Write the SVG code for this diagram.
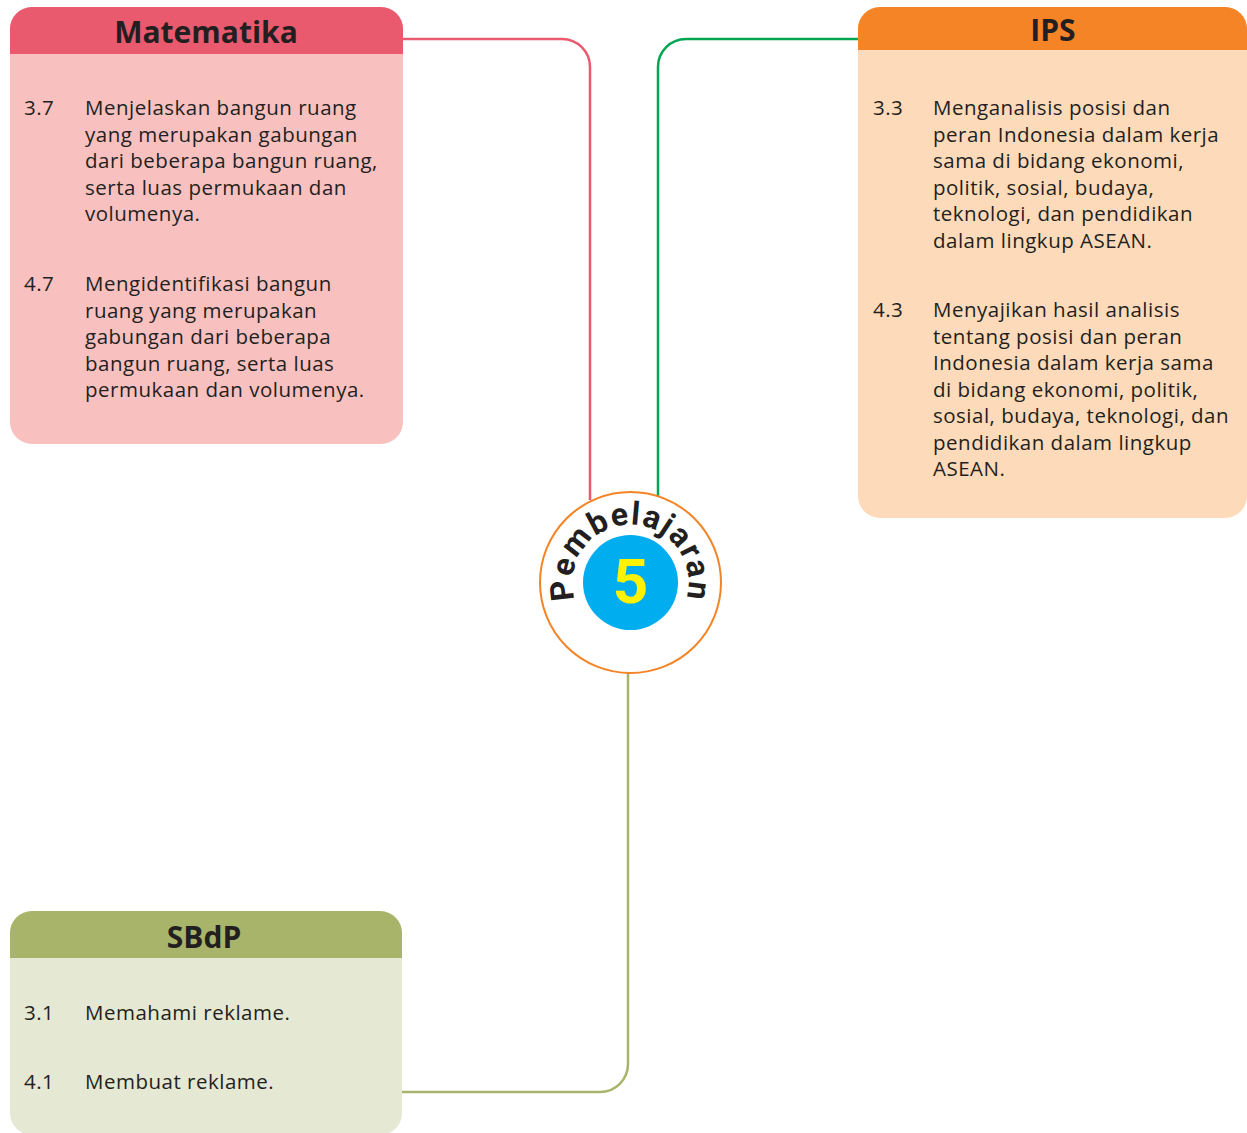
<svg xmlns="http://www.w3.org/2000/svg" width="1247" height="1133" viewBox="0 0 1247 1133">
<defs>
<style>
.body{font-family:"Open Sans","Noto Sans","Liberation Sans",sans-serif;font-size:20.5px;letter-spacing:0.5px;fill:#231f20}
.title{font-family:"Open Sans","Noto Sans","Liberation Sans",sans-serif;font-size:30px;font-weight:700;fill:#231f20;text-anchor:middle}
.conn{fill:none;stroke-width:2.5}
</style>
<path id="arc" d="M 577.9,607 A 58 58 0 1 1 683.1,607"/>
<clipPath id="clipM"><rect x="10" y="7" width="393" height="437" rx="22"/></clipPath>
<clipPath id="clipI"><rect x="858" y="7" width="389" height="511" rx="22"/></clipPath>
<clipPath id="clipS"><rect x="10" y="911" width="392" height="224" rx="22"/></clipPath>
</defs>
<rect width="1247" height="1133" fill="#ffffff"/>
<g id="connectors">
<path class="conn" stroke="#ea5a6f" d="M 403,39 H 562 A 28 28 0 0 1 590,67 V 500"/>
<path class="conn" stroke="#00a651" d="M 858,39 H 686 A 28 28 0 0 0 658,67 V 500"/>
<path class="conn" stroke="#a9b46b" d="M 628,673 V 1064 A 28 28 0 0 1 600,1092 H 402"/>
</g>
<g id="matematika">
<g clip-path="url(#clipM)">
<rect x="10" y="7" width="393" height="437" fill="#f8c1c0"/>
<rect x="10" y="7" width="393" height="47" fill="#ea5a6f"/>
</g>
<text class="title" x="206" y="43">Matematika</text>
<text class="body" x="24" y="115">3.7</text>
<text class="body"><tspan x="85" y="115">Menjelaskan bangun ruang</tspan><tspan x="85" y="142">yang merupakan gabungan</tspan><tspan x="85" y="168">dari beberapa bangun ruang,</tspan><tspan x="85" y="195">serta luas permukaan dan</tspan><tspan x="85" y="221">volumenya.</tspan></text>
<text class="body" x="24" y="291">4.7</text>
<text class="body"><tspan x="85" y="291">Mengidentifikasi bangun</tspan><tspan x="85" y="318">ruang yang merupakan</tspan><tspan x="85" y="344">gabungan dari beberapa</tspan><tspan x="85" y="371">bangun ruang, serta luas</tspan><tspan x="85" y="397">permukaan dan volumenya.</tspan></text>
</g>
<g id="ips">
<g clip-path="url(#clipI)">
<rect x="858" y="7" width="389" height="511" fill="#fddab9"/>
<rect x="858" y="7" width="389" height="43" fill="#f58426"/>
</g>
<text class="title" x="1053" y="41">IPS</text>
<text class="body" x="873" y="115">3.3</text>
<text class="body"><tspan x="933" y="115">Menganalisis posisi dan</tspan><tspan x="933" y="142">peran Indonesia dalam kerja</tspan><tspan x="933" y="168">sama di bidang ekonomi,</tspan><tspan x="933" y="195">politik, sosial, budaya,</tspan><tspan x="933" y="221">teknologi, dan pendidikan</tspan><tspan x="933" y="248">dalam lingkup ASEAN.</tspan></text>
<text class="body" x="873" y="317">4.3</text>
<text class="body"><tspan x="933" y="317">Menyajikan hasil analisis</tspan><tspan x="933" y="344">tentang posisi dan peran</tspan><tspan x="933" y="370">Indonesia dalam kerja sama</tspan><tspan x="933" y="397">di bidang ekonomi, politik,</tspan><tspan x="933" y="423">sosial, budaya, teknologi, dan</tspan><tspan x="933" y="450">pendidikan dalam lingkup</tspan><tspan x="933" y="476">ASEAN.</tspan></text>
</g>
<g id="sbdp">
<g clip-path="url(#clipS)">
<rect x="10" y="911" width="392" height="224" fill="#e5e8d3"/>
<rect x="10" y="911" width="392" height="47" fill="#a9b46b"/>
</g>
<text class="title" x="204" y="948">SBdP</text>
<text class="body" x="24" y="1020">3.1</text>
<text class="body" x="85" y="1020">Memahami reklame.</text>
<text class="body" x="24" y="1089">4.1</text>
<text class="body" x="85" y="1089">Membuat reklame.</text>
</g>
<g id="pembelajaran">
<circle cx="630.5" cy="582.5" r="90.5" fill="#ffffff" stroke="#f58426" stroke-width="2"/>
<circle cx="630.5" cy="582.5" r="47.5" fill="#00aeef"/>
<text font-family="Roboto,'DejaVu Sans',sans-serif" font-weight="700" font-size="32" fill="#231f20" letter-spacing="1.5"><textPath href="#arc" startOffset="50%" text-anchor="middle">Pembelajaran</textPath></text>
<text x="630.5" y="603" font-family="Roboto,'Liberation Sans',sans-serif" font-weight="700" font-size="62" fill="#fff200" text-anchor="middle">5</text>
</g>
</svg>
